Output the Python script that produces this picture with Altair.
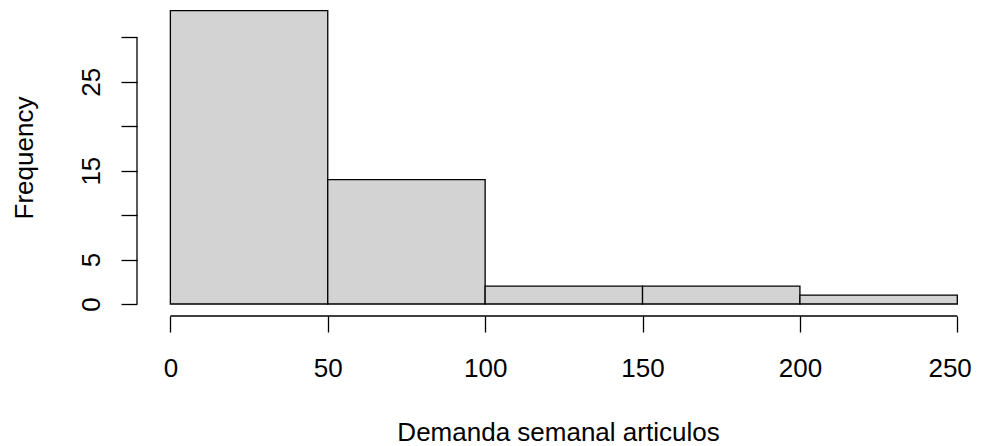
import altair as alt
import pandas as pd

# Histogram data
bin_start = [0, 50, 100, 150, 200]
bin_end = [50, 100, 150, 200, 250]
counts = [33, 14, 2, 2, 1]

x_ticks = [0, 50, 100, 150, 200, 250]
y_ticks = [0, 5, 10, 15, 20, 25, 30]
y_labeled = [0, 5, 15, 25]

x_title = "Demanda semanal articulos"
y_title = "Frequency"

FONT = "Liberation Sans"
W, H = 837, 308
LW = 1.3

df = pd.DataFrame({"start": bin_start, "end": bin_end, "count": counts})

xscale = alt.Scale(domain=[-10.6, 255.3], nice=False, zero=False)
yscale = alt.Scale(domain=[-1.35, 33.3], nice=False, zero=False)

label_list = "[" + ",".join(str(v) for v in y_labeled) + "]"

xaxis = alt.Axis(
    values=x_ticks, domain=False, grid=False,
    tickSize=16, tickColor="black", tickWidth=LW,
    labelFont=FONT, labelFontSize=26, labelColor="black",
    labelBaseline="alphabetic", labelPadding=44, labelAngle=0,
    labelFlush=20, labelFlushOffset=14, labelOverlap=False,
    title=x_title, titleFont=FONT, titleFontSize=26, titleFontWeight="normal",
    titleColor="black", titleX=421, titleY=124,
    titleBaseline="alphabetic", titleAlign="center",
)

yaxis = alt.Axis(
    values=y_ticks, domain=False, grid=False,
    tickSize=16, tickColor="black", tickWidth=LW,
    labelFont=FONT, labelFontSize=26, labelColor="black",
    labelAngle=270, labelAlign="center", labelBaseline="alphabetic", labelPadding=22,
    labelFlush=False, labelOverlap=False,
    labelExpr="indexof(" + label_list + ", datum.value) >= 0 ? datum.label : ''",
    title=y_title, titleFont=FONT, titleFontSize=26, titleFontWeight="normal",
    titleColor="black", titleAngle=270, titleX=-105, titleY=149.5,
    titleBaseline="alphabetic", titleAlign="center",
)

bars = alt.Chart(df).mark_rect(fill="#D3D3D3", stroke="black", strokeWidth=LW).encode(
    x=alt.X("start:Q", scale=xscale, axis=xaxis),
    x2="end:Q",
    y=alt.Y("count:Q", scale=yscale, axis=yaxis),
    y2=alt.datum(0),
)

yline = alt.Chart(pd.DataFrame({"start": [min(x_ticks)], "count": [min(y_ticks)], "hi": [max(y_ticks)]})).mark_rule(
    color="black", strokeWidth=LW
).encode(
    y=alt.Y("count:Q", scale=yscale, axis=yaxis),
    y2="hi:Q",
    x=alt.value(0),
)

xline = alt.Chart(pd.DataFrame({"start": [min(x_ticks)], "hi": [max(x_ticks)]})).mark_rule(
    color="black", strokeWidth=LW
).encode(
    x=alt.X("start:Q", scale=xscale, axis=xaxis),
    x2="hi:Q",
    y=alt.value(H),
)

chart = alt.layer(bars, yline, xline).properties(
    width=W, height=H,
    autosize=alt.AutoSizeParams(type="none"),
    padding={"left": 129, "top": 0, "right": 0, "bottom": 130},
    background="white",
).configure_view(stroke=None)

chart.save("out.html", embed_options={"renderer": "svg", "actions": False})
